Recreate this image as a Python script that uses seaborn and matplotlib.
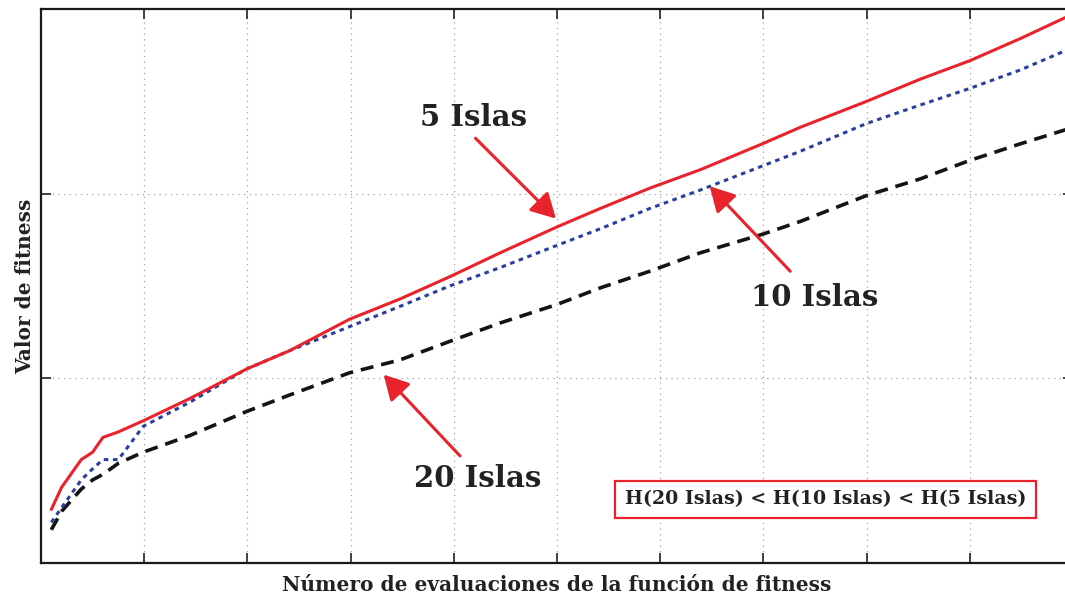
import matplotlib
matplotlib.use("Agg")
import matplotlib.pyplot as plt
import numpy as np
import pandas as pd
import seaborn as sns

# Evaluations (arbitrary units, 10 grid divisions) and fitness values per island count
x_vals = [0.10, 0.20, 0.39, 0.50, 0.60, 0.75, 0.99, 1.44, 1.99, 2.41, 2.99, 3.48,
          3.96, 4.45, 5.00, 5.42, 5.90, 6.39, 6.99, 7.36, 8.00, 8.52, 9.00, 9.49, 9.95]
islas_5 = [0.29, 0.41, 0.56, 0.60, 0.68, 0.71, 0.77, 0.89, 1.05, 1.15, 1.32, 1.43,
           1.55, 1.68, 1.82, 1.92, 2.03, 2.13, 2.27, 2.36, 2.50, 2.62, 2.72, 2.84, 2.96]
islas_10 = [0.22, 0.30, 0.45, 0.51, 0.56, 0.56, 0.74, 0.87, 1.05, 1.15, 1.28, 1.39,
            1.50, 1.60, 1.72, 1.81, 1.92, 2.02, 2.15, 2.23, 2.38, 2.48, 2.57, 2.67, 2.78]
islas_20 = [0.18, 0.28, 0.40, 0.45, 0.48, 0.54, 0.60, 0.69, 0.82, 0.91, 1.03, 1.10,
            1.20, 1.30, 1.40, 1.49, 1.58, 1.68, 1.78, 1.85, 1.99, 2.08, 2.18, 2.27, 2.35]

RED = "#e8232c"
BLUE = "#2b3f9c"
BLACK = "#141414"

df = pd.DataFrame({"x": x_vals, "5": islas_5, "10": islas_10, "20": islas_20})

sns.set_theme(style="white")
plt.rcParams["font.family"] = ["DejaVu Serif"]

fig = plt.figure(figsize=(10.65, 5.94), dpi=100)
ax = fig.add_axes([41 / 1065, 31 / 594, 1032 / 1065, 554 / 594])

sns.lineplot(data=df, x="x", y="20", ax=ax, color=BLACK, lw=2.6,
             linestyle=(0, (3.6, 2.2)))
sns.lineplot(data=df, x="x", y="10", ax=ax, color=BLUE, lw=2.2,
             linestyle=(0, (1.5, 1.5)))
sns.lineplot(data=df, x="x", y="5", ax=ax, color=RED, lw=2.2)

ax.set_xlim(0, 10)
ax.set_ylim(0, 3)
ax.set_xticks(np.arange(1, 10))
ax.set_yticks([1, 2])
ax.set_xticklabels([])
ax.set_yticklabels([])
ax.tick_params(direction="in", length=7, width=1.2, color="#222222",
               top=True, right=True, bottom=True, left=True)
ax.grid(True, linestyle=(0, (1, 3.5)), color="#a0a0a0", lw=0.9)
for sp in ax.spines.values():
    sp.set_color("#1a1a1a")
    sp.set_linewidth(1.6)

label_font = dict(fontweight="bold", color="#222222")
ax.set_xlabel("Número de evaluaciones de la función de fitness", fontsize=14.5,
              labelpad=5, **label_font)
ax.set_ylabel("Valor de fitness", fontsize=14.5, labelpad=1, **label_font)

arrow = dict(arrowstyle="-|>,head_length=1.0,head_width=0.55", color=RED,
             lw=2.2, mutation_scale=15, shrinkA=0, shrinkB=0)

notes = [
    ("5 Islas", (4.19, 2.41), (4.21, 2.30), (4.99, 1.865)),
    ("10 Islas", (7.50, 1.44), (7.26, 1.58), (6.48, 2.04)),
    ("20 Islas", (4.23, 0.46), (4.06, 0.58), (3.32, 1.02)),
]
for text, pos, tail, tip in notes:
    ax.annotate("", xy=tip, xytext=tail, arrowprops=arrow)
    ax.text(pos[0], pos[1], text, ha="center", va="center", fontsize=21,
            **label_font)

ax.text(7.6, 0.345, "H(20 Islas) < H(10 Islas) < H(5 Islas)", ha="center",
        va="center", fontsize=13.7, **label_font,
        bbox=dict(boxstyle="square,pad=0.5", fc="white", ec=RED, lw=1.6))

fig.savefig("out.png", dpi=100)
